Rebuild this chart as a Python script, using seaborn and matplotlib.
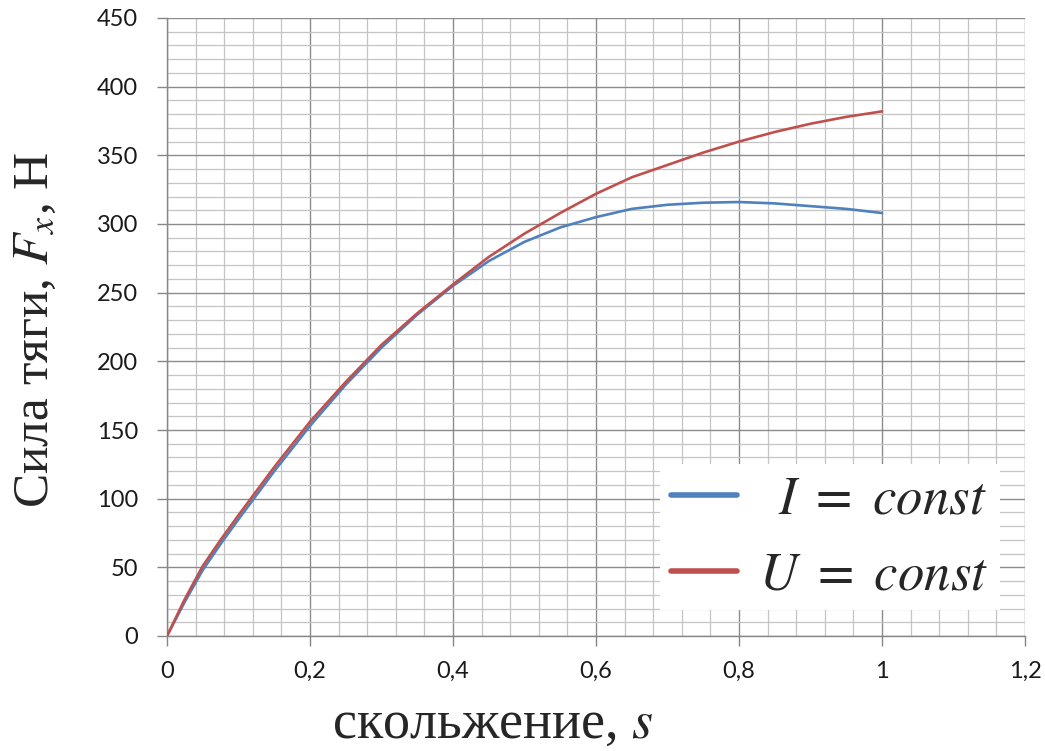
import numpy as np
import pandas as pd
import matplotlib
matplotlib.use("Agg")
import matplotlib.pyplot as plt
from matplotlib.ticker import MultipleLocator, FixedLocator, FixedFormatter
import seaborn as sns

# slip values and traction force for the two supply modes
slip = [0.0, 0.025, 0.05, 0.075, 0.10, 0.15, 0.20, 0.25, 0.30, 0.35, 0.40, 0.45,
        0.50, 0.55, 0.60, 0.65, 0.70, 0.75, 0.80, 0.85, 0.90, 0.95, 1.00]
force_i_const = [0, 25, 48, 67, 85, 120, 153, 183, 210, 234, 255, 273,
                 287, 297.5, 305, 311, 314, 315.5, 316, 315, 313, 311, 308]
force_u_const = [0, 27, 51, 70, 88, 123, 156, 185, 212, 235, 256, 276,
                 293, 308, 322, 334, 343, 352, 360, 367, 373, 378, 382]

series_labels = [r"$\enspace I\ =\ const$", r"$U\ =\ const$"]
series_colors = ["#4F81BD", "#C0504D"]

x_ticks = [0.0, 0.2, 0.4, 0.6, 0.8, 1.0, 1.2]
x_tick_labels = ["0", "0,2", "0,4", "0,6", "0,8", "1", "1,2"]
y_ticks = [0, 50, 100, 150, 200, 250, 300, 350, 400, 450]
y_tick_labels = [str(v) for v in y_ticks]

x_label = "скольжение, $s$"
y_label = "Сила тяги, $F_x$, Н"

sns.set_theme(style="white")
plt.rcParams["font.family"] = ["Lato", "DejaVu Sans"]
plt.rcParams["mathtext.fontset"] = "stix"

df = pd.concat([
    pd.DataFrame({"s": slip, "F": force_i_const, "mode": series_labels[0]}),
    pd.DataFrame({"s": slip, "F": force_u_const, "mode": series_labels[1]}),
])

fig = plt.figure(figsize=(10.45, 7.51), dpi=100)
ax = fig.add_axes([167 / 1045, 1 - 636 / 751, 858 / 1045, 618 / 751])

for lbl, col in zip(series_labels, series_colors):
    sub = df[df["mode"] == lbl]
    sns.lineplot(data=sub, x="s", y="F", ax=ax, color=col, linewidth=1.9,
                 label=lbl, estimator=None, sort=False, zorder=3)

ax.set_xlim(0, 1.2)
ax.set_ylim(0, 450)

ax.xaxis.set_major_locator(FixedLocator(x_ticks))
ax.xaxis.set_major_formatter(FixedFormatter(x_tick_labels))
ax.yaxis.set_major_locator(FixedLocator(y_ticks))
ax.yaxis.set_major_formatter(FixedFormatter(y_tick_labels))
ax.xaxis.set_minor_locator(MultipleLocator(0.04))
ax.yaxis.set_minor_locator(MultipleLocator(10))

ax.grid(which="major", color="#8C8C8C", linewidth=1.0)
ax.grid(which="minor", color="#C4C4C4", linewidth=0.9)
ax.set_axisbelow(True)

for side in ("top", "right"):
    ax.spines[side].set_visible(False)
for side in ("left", "bottom"):
    ax.spines[side].set_color("#868686")
    ax.spines[side].set_linewidth(1.0)

ax.tick_params(which="major", direction="out", length=7, width=1.0,
               color="#868686", labelsize=17, labelcolor="#1a1a1a")
ax.tick_params(axis="x", which="major", pad=11, bottom=True)
ax.tick_params(axis="y", which="major", pad=14, left=True)
ax.tick_params(which="minor", length=0)

ax.set_xlabel(x_label, fontsize=39, family=["Liberation Serif", "DejaVu Serif"])
ax.set_ylabel(y_label, fontsize=37, family=["Liberation Serif", "DejaVu Serif"])
ax.xaxis.set_label_coords(0.379, -0.103)
ax.yaxis.set_label_coords(-0.126, 0.495)

leg = ax.legend(loc="lower right", bbox_to_anchor=(0.971, 0.042),
                borderaxespad=0.0, fontsize=38, frameon=True, framealpha=1.0,
                facecolor="white", edgecolor="none", fancybox=False,
                handlelength=1.25, handletextpad=0.42, labelspacing=0.54,
                borderpad=0.22)
for line in leg.get_lines():
    line.set_linewidth(4.0)

fig.savefig("out.png", dpi=100, facecolor="white")
